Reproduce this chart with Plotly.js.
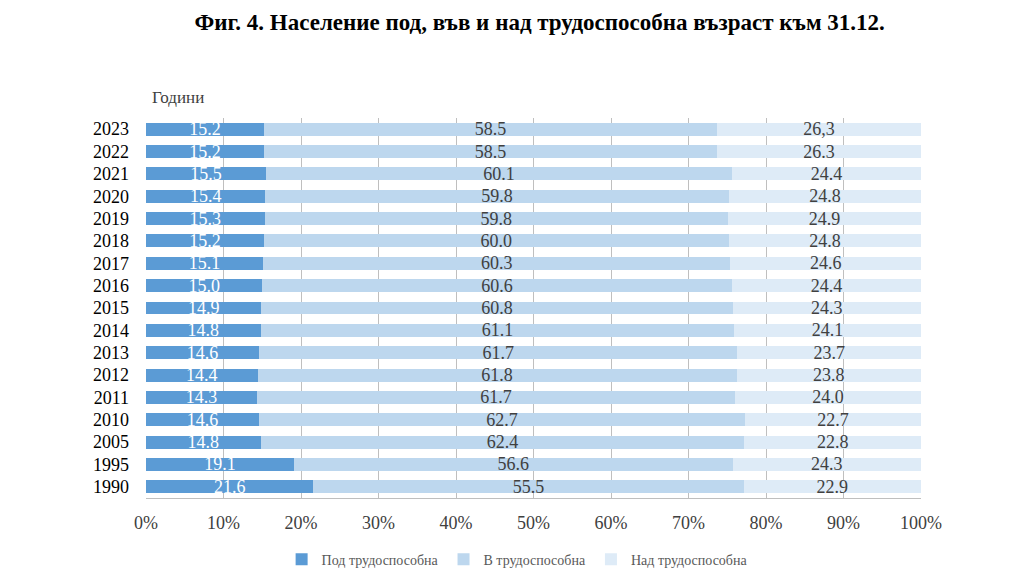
<!DOCTYPE html>
<html>
<head>
<meta charset="utf-8">
<script src="https://cdn.plot.ly/plotly-3.0.1.min.js"></script>
<style>html,body{margin:0;padding:0;background:#fff;}#chart{width:1024px;height:583px;}</style>
</head>
<body>
<div id="chart"></div>
<script>
const years = ["1990","1995","2005","2010","2011","2012","2013","2014","2015","2016","2017","2018","2019","2020","2021","2022","2023"];
const under = [21.6,19.1,14.8,14.6,14.3,14.4,14.6,14.8,14.9,15.0,15.1,15.2,15.3,15.4,15.5,15.2,15.2];
const working = [55.5,56.6,62.4,62.7,61.7,61.8,61.7,61.1,60.8,60.6,60.3,60.0,59.8,59.8,60.1,58.5,58.5];
const over = [22.9,24.3,22.8,22.7,24.0,23.8,23.7,24.1,24.3,24.4,24.6,24.8,24.9,24.8,24.4,26.3,26.3];
const overLabels = ["22.9","24.3","22.8","22.7","24.0","23.8","23.7","24.1","24.3","24.4","24.6","24.8","24.9","24.8","24.4","26.3","26,3"];
const seriesNames = ["Под трудоспособна","В трудоспособна","Над трудоспособна"];
const xTicks = [0,10,20,30,40,50,60,70,80,90,100];

const font = "Liberation Serif, Times New Roman, serif";
function fmt(a){return a.map(v=>v.toFixed(1));}
const common = {type:'bar', orientation:'h', y: years, textposition:'inside', insidetextanchor:'middle', constraintext:'none', hoverinfo:'x+y+name', cliponaxis:false};
const traces = [
  Object.assign({}, common, {x: under, name: seriesNames[0], text: fmt(under), marker:{color:'#5B9BD5'}, textfont:{family:font,size:18,color:'#ffffff'}}),
  Object.assign({}, common, {x: working, name: seriesNames[1], text: fmt(working), marker:{color:'#BDD7EE'}, textfont:{family:font,size:18,color:'#404040'}}),
  Object.assign({}, common, {x: over, name: seriesNames[2], text: overLabels, marker:{color:'#DEEBF7'}, textfont:{family:font,size:18,color:'#404040'}})
];
const layout = {
  width:1024, height:583,
  margin:{l:146, r:103, t:118, b:85},
  barmode:'stack', bargap:0.42,
  paper_bgcolor:'#fff', plot_bgcolor:'#fff',
  title:{text:'<b>Фиг. 4. Население под, във и над трудоспособна възраст към 31.12.</b>', font:{family:font,size:23,color:'#000'}, x:0.527, xanchor:'center', y:0.962, yanchor:'middle'},
  xaxis:{range:[0,100], tickvals:xTicks, ticktext:xTicks.map(v=>v+'%'), showgrid:true, gridcolor:'#bfbfbf', gridwidth:1, zeroline:false, showline:true, linecolor:'#bfbfbf', tickfont:{family:font,size:18,color:'#404040'}, ticks:'', ticklabelstandoff:8, fixedrange:true, automargin:false},
  yaxis:{type:'category', categoryorder:'array', categoryarray:years, tickfont:{family:font,size:18,color:'#000'}, ticks:'', showgrid:false, showline:false, ticklabelstandoff:16, automargin:false},
  legend:{orientation:'h', xref:'container', yref:'container', x:0.505, xanchor:'center', y:0.04, yanchor:'middle', font:{family:font,size:14,color:'#595959'}, traceorder:'normal', itemwidth:30},
  annotations:[{text:'Години', xref:'paper', yref:'paper', x:0.005, y:1.055, xanchor:'left', yanchor:'middle', showarrow:false, font:{family:font,size:17,color:'#404040'}}],
  showlegend:true
};
Plotly.newPlot('chart', traces, layout, {displayModeBar:false, staticPlot:true});
</script>
</body>
</html>
